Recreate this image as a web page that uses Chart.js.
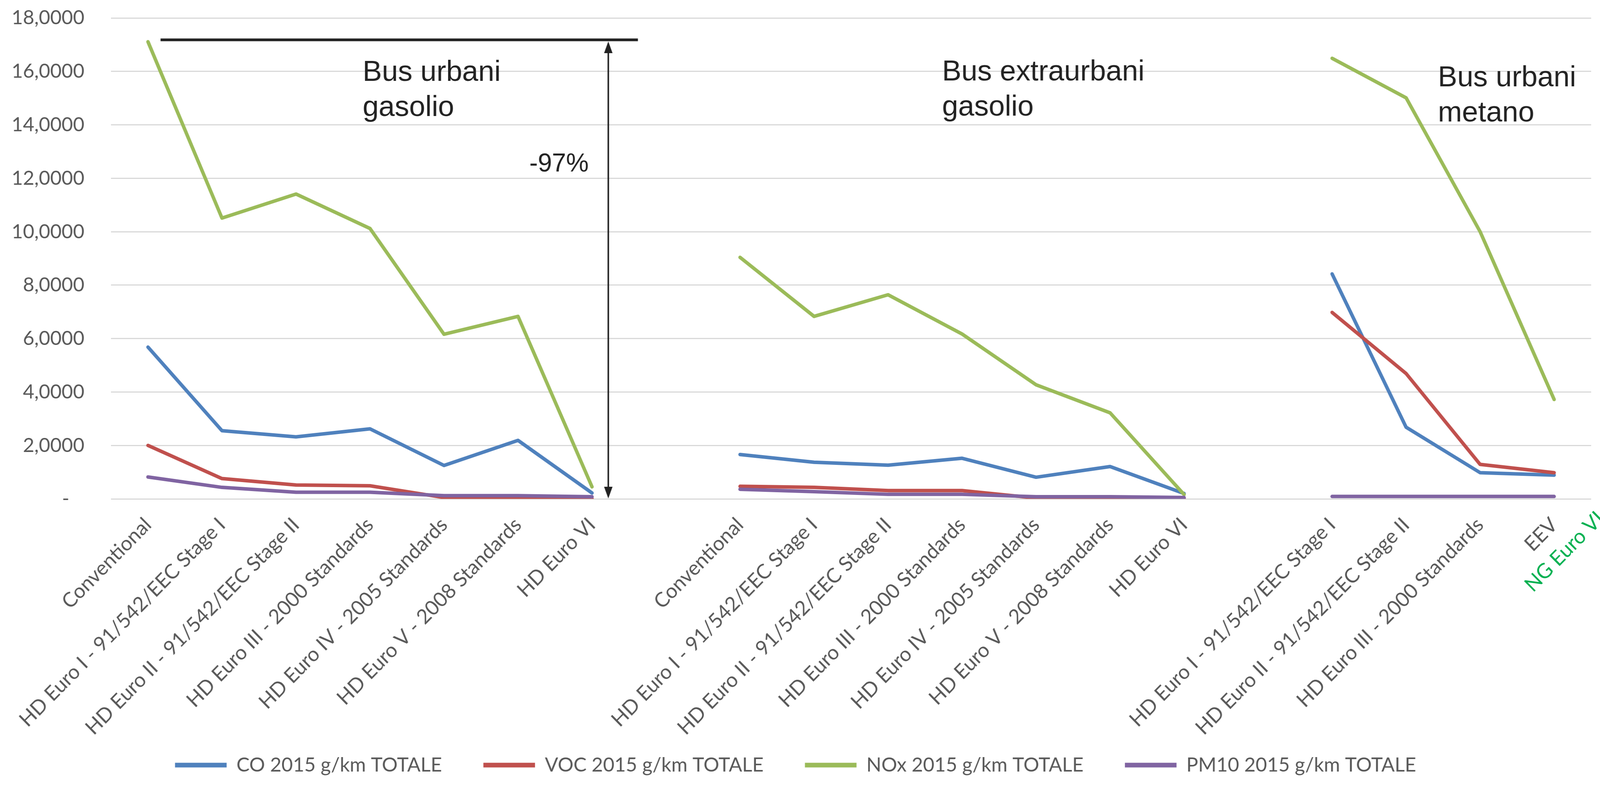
<!DOCTYPE html>
<html lang="it">
<head>
<meta charset="UTF-8">
<title>Emissioni bus 2015</title>
<script src="https://cdn.jsdelivr.net/npm/chart.js"></script>
<style>
  html, body { margin: 0; padding: 0; background: #fff; overflow: hidden; }
  canvas { display: block; }
</style>
</head>
<body>
<canvas id="chart" width="4153" height="2012" style="width:100vw;height:2012px"></canvas>
<script>
// categorie (le stringhe vuote separano i tre gruppi di bus)
const categories = [
  'Conventional', 'HD Euro I - 91/542/EEC Stage I', 'HD Euro II - 91/542/EEC Stage II',
  'HD Euro III - 2000 Standards', 'HD Euro IV - 2005 Standards', 'HD Euro V - 2008 Standards', 'HD Euro VI',
  '',
  'Conventional', 'HD Euro I - 91/542/EEC Stage I', 'HD Euro II - 91/542/EEC Stage II',
  'HD Euro III - 2000 Standards', 'HD Euro IV - 2005 Standards', 'HD Euro V - 2008 Standards', 'HD Euro VI',
  '',
  'HD Euro I - 91/542/EEC Stage I', 'HD Euro II - 91/542/EEC Stage II', 'HD Euro III - 2000 Standards', 'EEV'
];

// g/km 2015, valori
const coValues   = [5.68, 2.55, 2.32, 2.62, 1.25, 2.19, 0.22, null, 1.66, 1.37, 1.26, 1.52, 0.81, 1.21, 0.20, null, 8.42, 2.68, 0.98, 0.89];
const vocValues  = [2.00, 0.76, 0.52, 0.49, 0.05, 0.02, 0.01, null, 0.47, 0.43, 0.31, 0.31, 0.03, 0.02, 0.01, null, 6.98, 4.69, 1.29, 0.98];
const noxValues  = [17.11, 10.51, 11.41, 10.12, 6.16, 6.83, 0.45, null, 9.04, 6.83, 7.64, 6.17, 4.27, 3.22, 0.16, null, 16.49, 15.01, 10.00, 3.72];
const pm10Values = [0.82, 0.43, 0.25, 0.25, 0.12, 0.12, 0.08, null, 0.36, 0.27, 0.17, 0.17, 0.08, 0.08, 0.05, null, 0.09, 0.09, 0.09, 0.09];

const seriesNames = ['CO 2015 g/km TOTALE', 'VOC 2015 g/km TOTALE', 'NOx 2015 g/km TOTALE', 'PM10 2015 g/km TOTALE'];
const seriesColors = ['#4F81BD', '#C0504D', '#9BBB59', '#8064A2'];

const groupTitles = [
  { lines: ['Bus urbani', 'gasolio'], at: 2.90, base: 15.64 },
  { lines: ['Bus extraurbani', 'gasolio'], at: 10.73, base: 15.66 },
  { lines: ['Bus urbani', 'metano'], at: 17.43, base: 15.44 }
];

const Y_BOTTOM = 1277;   // pixel della linea dello zero
const BOTTOM_PAD = 18;
const TICK_PAD = 28;
const TEXT_COLOR = '#595959';

function makeSet(i, data, order) {
  return {
    label: seriesNames[i],
    data: data,
    borderColor: seriesColors[i],
    backgroundColor: seriesColors[i],
    borderWidth: 9,
    borderJoinStyle: 'round',
    borderCapStyle: 'round',
    pointRadius: 0,
    pointHoverRadius: 0,
    tension: 0,
    spanGaps: false,
    order: order
  };
}

function arrowHead(ctx, x, y, dir) {
  ctx.beginPath();
  ctx.moveTo(x, y);
  ctx.lineTo(x - 11, y + dir * 30);
  ctx.lineTo(x + 11, y + dir * 30);
  ctx.closePath();
  ctx.fill();
}

// testi, linea e freccia del -97%
const annotations = {
  id: 'annotations',
  afterDraw(chart) {
    const { ctx, scales: { x, y } } = chart;
    ctx.save();
    ctx.strokeStyle = '#222';
    ctx.fillStyle = '#222';

    const yTop = y.getPixelForValue(17.18);
    ctx.lineWidth = 7;
    ctx.beginPath();
    ctx.moveTo(x.getPixelForValue(0.17), yTop);
    ctx.lineTo(x.getPixelForValue(6.62), yTop);
    ctx.stroke();

    const ax = x.getPixelForValue(6.22);
    const y0 = y.getPixelForValue(0);
    ctx.lineWidth = 4;
    ctx.beginPath();
    ctx.moveTo(ax, yTop + 20);
    ctx.lineTo(ax, y0 - 20);
    ctx.stroke();
    arrowHead(ctx, ax, yTop + 4, 1);
    arrowHead(ctx, ax, y0 - 1, -1);

    ctx.font = '66px "Liberation Sans", Arial, sans-serif';
    ctx.textAlign = 'right';
    ctx.textBaseline = 'alphabetic';
    ctx.fillText('-97%', x.getPixelForValue(5.955), y.getPixelForValue(12.25));

    ctx.font = '75px "Liberation Sans", Arial, sans-serif';
    ctx.textAlign = 'left';
    groupTitles.forEach(g => {
      const px = x.getPixelForValue(g.at);
      const py = y.getPixelForValue(g.base);
      g.lines.forEach((t, k) => ctx.fillText(t, px, py + k * 90));
    });

    // etichetta aggiunta accanto a EEV
    ctx.translate(x.getPixelForValue(19) + 120, x.top + TICK_PAD + 14);
    ctx.rotate(-Math.PI / 4);
    ctx.font = '53px Lato, sans-serif';
    ctx.fillStyle = '#00B050';
    ctx.textAlign = 'right';
    ctx.textBaseline = 'middle';
    ctx.fillText('NG Euro VI', 0, 0);
    ctx.restore();
  }
};

new Chart(document.getElementById('chart'), {
  type: 'line',
  data: {
    labels: categories,
    datasets: [
      makeSet(0, coValues, 4),
      makeSet(1, vocValues, 3),
      makeSet(2, noxValues, 2),
      makeSet(3, pm10Values, 1)
    ]
  },
  options: {
    responsive: false,
    devicePixelRatio: 1,
    animation: false,
    events: [],
    layout: { padding: { top: 46, right: 23, left: 0, bottom: BOTTOM_PAD } },
    plugins: {
      tooltip: { enabled: false },
      legend: {
        position: 'bottom',
        labels: {
          color: TEXT_COLOR,
          font: { family: 'Lato', size: 51 },
          usePointStyle: true,
          pointStyle: 'line',
          pointStyleWidth: 134,
          padding: 16,
          sort: (a, b) => a.datasetIndex - b.datasetIndex,
          generateLabels(chart) {
            const items = Chart.defaults.plugins.legend.labels.generateLabels(chart);
            items.forEach(it => {
              it.lineWidth = 12;
              if (it.datasetIndex < 3) it.text = it.text + '\u00A0\u00A0\u00A0\u00A0\u00A0\u00A0\u00A0';
            });
            return items;
          }
        }
      }
    },
    scales: {
      x: {
        offset: true,
        grid: { display: false },
        border: { display: false },
        ticks: {
          color: TEXT_COLOR,
          font: { family: 'Lato', size: 52 },
          autoSkip: false,
          maxRotation: 45,
          minRotation: 45,
          padding: TICK_PAD
        },
        afterFit(s) {
          s.height = 2012 - BOTTOM_PAD - Y_BOTTOM - s.chart.legend.height;
          s.paddingLeft = 0;
          s.paddingRight = 0;
        }
      },
      y: {
        min: 0,
        max: 18,
        grid: { color: '#D9D9D9', lineWidth: 3, drawTicks: false },
        border: { display: false },
        ticks: {
          stepSize: 2,
          color: TEXT_COLOR,
          font: { family: 'Lato', size: 51 },
          padding: 69,
          callback: v => v === 0 ? '-\u00A0\u00A0\u00A0' : v.toFixed(4).replace('.', ',')
        },
        afterFit(s) {
          s.width = 288;
          s.paddingTop = 0;
          s.paddingBottom = 0;
        }
      }
    }
  },
  plugins: [annotations]
});
</script>
</body>
</html>
